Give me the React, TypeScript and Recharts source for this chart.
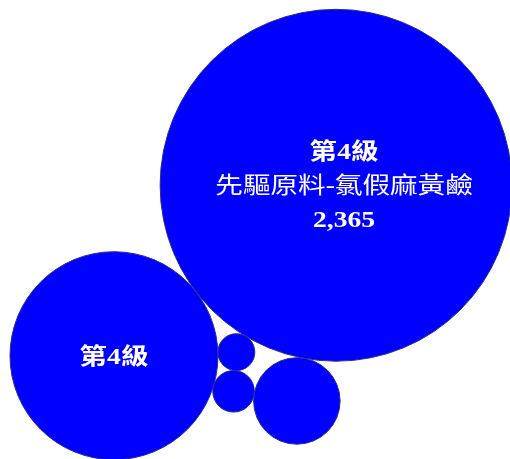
import React from 'react';
import { ScatterChart, Scatter, XAxis, YAxis, ZAxis } from 'recharts';

const levels = ['第4級', '第4級', '第4級', '第4級', '第4級'];
const names = ['先驅原料-氯假麻黃鹼', '', '', '', ''];
const values = [2365, 826, 143, 33, 26];

const W = 510;
const H = 459;

// packed-bubble layout: second bubble sits at this angle from the first,
// the rest are tucked in tangent to two bubbles already placed
const firstAngle = (142.5 * Math.PI) / 180;
const contacts = [
  [4, 0, 1],
  [3, 4, 1],
  [2, 0, 3],
];
const fitBox = { x: 10, y: 9, w: 502, h: 451 };

type P = { x: number; y: number; r: number };

const place = (a: P, b: P, r: number): P => {
  const d = Math.hypot(b.x - a.x, b.y - a.y);
  const ra = a.r + r;
  const rb = b.r + r;
  const cosA = (d * d + ra * ra - rb * rb) / (2 * d * ra);
  const ang = Math.atan2(b.y - a.y, b.x - a.x) - Math.acos(Math.max(-1, Math.min(1, cosA)));
  return { x: a.x + ra * Math.cos(ang), y: a.y + ra * Math.sin(ang), r };
};

const pack = () => {
  const radii = values.map((v) => Math.sqrt(v));
  const pts: P[] = [];
  pts[0] = { x: 0, y: 0, r: radii[0] };
  const d01 = radii[0] + radii[1];
  pts[1] = { x: d01 * Math.cos(firstAngle), y: d01 * Math.sin(firstAngle), r: radii[1] };
  contacts.forEach(([i, a, b]) => {
    pts[i] = place(pts[a], pts[b], radii[i]);
  });
  const x0 = Math.min(...pts.map((p) => p.x - p.r));
  const x1 = Math.max(...pts.map((p) => p.x + p.r));
  const y0 = Math.min(...pts.map((p) => p.y - p.r));
  const y1 = Math.max(...pts.map((p) => p.y + p.r));
  const s = Math.min(fitBox.w / (x1 - x0), fitBox.h / (y1 - y0));
  const tx = fitBox.x + fitBox.w / 2 - (s * (x0 + x1)) / 2;
  const ty = fitBox.y + fitBox.h / 2 - (s * (y0 + y1)) / 2;
  const rows = values.map((v, i) => ({
    x: tx + s * pts[i].x,
    y: ty + s * pts[i].y,
    value: v,
    level: levels[i],
    name: names[i],
  }));
  return { rows, s };
};

const { rows, s } = pack();
const maxV = Math.max(...values);

const fmt = (v: number) => v.toLocaleString('en-US');

const Bubble = (props: any) => {
  const { cx, cy, payload } = props;
  const r = props.width ? props.width / 2 : Math.sqrt((props.size || 0) / Math.PI);
  let lines: { t: string; bold: boolean }[] = [];
  if (r > 150) {
    lines = [
      { t: payload.level, bold: true },
      { t: payload.name, bold: false },
      { t: fmt(payload.value), bold: true },
    ];
  } else if (r > 60) {
    lines = [{ t: payload.level, bold: true }];
  }
  const gap = 34;
  const start = -((lines.length - 1) * gap) / 2;
  const dx = lines.length > 1 ? 8 : 0;
  return (
    <g>
      <circle cx={cx} cy={cy} r={r} fill="#0000ff" stroke="#2b2b8f" strokeWidth={1} />
      {lines.map((l, i) => (
        <text
          key={i}
          transform={`translate(${cx + dx},${cy + start + i * gap}) scale(1.2,1)`}
          textAnchor="middle"
          dominantBaseline="central"
          fill="#ffffff"
          fontSize={23}
          fontWeight={l.bold ? 'bold' : 'normal'}
          fontFamily="'Liberation Serif', 'Noto Sans CJK TC', serif"
        >
          {l.t}
        </text>
      ))}
    </g>
  );
};

export default function App() {
  return (
    <div style={{ position: 'fixed', left: 0, top: 0, width: W, height: H }}>
      <ScatterChart width={W} height={H} margin={{ top: 0, right: 0, bottom: 0, left: 0 }}>
        <XAxis type="number" dataKey="x" domain={[0, W]} hide />
        <YAxis type="number" dataKey="y" domain={[0, H]} reversed hide />
        <ZAxis type="number" dataKey="value" domain={[0, maxV]} range={[0, Math.PI * s * s * maxV]} />
        <Scatter data={rows} shape={<Bubble />} isAnimationActive={false} />
      </ScatterChart>
    </div>
  );
}
